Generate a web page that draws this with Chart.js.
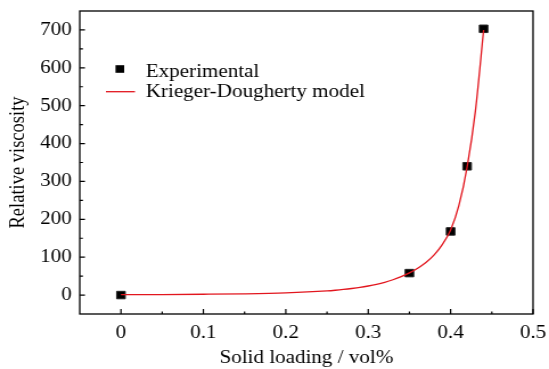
<!DOCTYPE html>
<html>
<head>
<meta charset="utf-8">
<script src="https://cdn.jsdelivr.net/npm/chart.js@4.4.1/dist/chart.umd.min.js"></script>
<style>
  html, body { margin: 0; padding: 0; background: #fff; }
  #wrap { width: 549px; height: 369px; overflow: hidden; }
  #c { width: 549px; height: 369px; display: block; }
</style>
</head>
<body>
<div id="wrap"><canvas id="c" width="482" height="369" style="width:549px;height:369px;"></canvas></div>
<script>
// ---- data ----
const expX = [0, 0.35, 0.40, 0.42, 0.44];
const expY = [0, 58, 168, 340, 703];

const modelX = [0, 0.05, 0.10, 0.15, 0.20, 0.25, 0.26, 0.27, 0.28, 0.29, 0.30, 0.31, 0.32, 0.33, 0.34, 0.35, 0.36, 0.37, 0.38, 0.39, 0.40, 0.41, 0.42, 0.43, 0.44];
const modelY = [1, 1.4, 2.1, 3.3, 5.8, 11, 12.7, 14.8, 17.3, 20.2, 23.9, 28.3, 33.7, 40.4, 48.6, 58.5, 71, 86, 106, 134, 172, 237, 338, 485, 700];

const xTickValues = [0, 0.1, 0.2, 0.3, 0.4, 0.5];
const xTickLabels = ['0', '0.1', '0.2', '0.3', '0.4', '0.5'];
const xMinorTicks = [0.05, 0.15, 0.25, 0.35, 0.45];
const yTickValues = [0, 100, 200, 300, 400, 500, 600, 700];
const yTickLabels = ['0', '100', '200', '300', '400', '500', '600', '700'];
const yMinorTicks = [50, 150, 250, 350, 450, 550, 650];

const seriesNames = ['Experimental', 'Krieger-Dougherty model'];
const xTitle = 'Solid loading / vol%';
const yTitle = 'Relative viscosity';

// ---- styling ----
const FONT = 'Liberation Serif';
const FS = 18.5;
const RED = 'rgb(226,22,30)';

const expData = expX.map((x, i) => ({ x: x, y: expY[i] }));
const modelData = modelX.map((x, i) => ({ x: x, y: modelY[i] }));

const framePlugin = {
  id: 'frameTicksLegend',
  afterDraw(chart) {
    const ctx = chart.ctx;
    const a = chart.chartArea;
    const xs = chart.scales.x, ys = chart.scales.y;
    ctx.save();
    ctx.strokeStyle = '#000';
    ctx.lineWidth = 1.2;
    // inward ticks
    ctx.beginPath();
    xTickValues.forEach(v => { const p = xs.getPixelForValue(v); ctx.moveTo(p, a.bottom); ctx.lineTo(p, a.bottom - 5); });
    xMinorTicks.forEach(v => { const p = xs.getPixelForValue(v); ctx.moveTo(p, a.bottom); ctx.lineTo(p, a.bottom - 2.6); });
    yTickValues.forEach(v => { const p = ys.getPixelForValue(v); ctx.moveTo(a.left, p); ctx.lineTo(a.left + 4.6, p); });
    yMinorTicks.forEach(v => { const p = ys.getPixelForValue(v); ctx.moveTo(a.left, p); ctx.lineTo(a.left + 2.8, p); });
    ctx.stroke();
    // frame
    ctx.lineWidth = 1.3;
    ctx.strokeRect(a.left, a.top, a.right - a.left, a.bottom - a.top);

    // legend
    ctx.fillStyle = '#000';
    ctx.font = FS + 'px "' + FONT + '"';
    ctx.textBaseline = 'alphabetic';
    ctx.textAlign = 'left';
    const mx = a.left + 35.2, my = 69;
    ctx.fillRect(mx - 3.8, my - 3.8, 7.6, 7.6);
    ctx.fillText(seriesNames[0], a.left + 58, 76.5);
    ctx.strokeStyle = RED;
    ctx.lineWidth = 1.3;
    ctx.beginPath();
    ctx.moveTo(a.left + 23, 91.7);
    ctx.lineTo(a.left + 48.5, 91.7);
    ctx.stroke();
    ctx.fillText(seriesNames[1], a.left + 58, 96.7);
    ctx.restore();
  }
};

new Chart(document.getElementById('c'), {
  type: 'scatter',
  data: {
    datasets: [
      {
        type: 'line',
        label: seriesNames[1],
        data: modelData,
        borderColor: RED,
        borderWidth: 1.3,
        pointRadius: 0,
        fill: false,
        cubicInterpolationMode: 'monotone',
        order: 0
      },
      {
        label: seriesNames[0],
        data: expData,
        pointStyle: 'rect',
        pointRadius: 5.3,
        pointBackgroundColor: '#000',
        pointBorderColor: '#222',
        pointBorderWidth: 1,
        order: 1
      }
    ]
  },
  options: {
    responsive: false,
    maintainAspectRatio: false,
    devicePixelRatio: 1,
    animation: false,
    layout: { padding: { left: 0, right: 14, top: 11, bottom: 0 } },
    plugins: { legend: { display: false }, tooltip: { enabled: false } },
    scales: {
      x: {
        type: 'linear',
        min: -0.05,
        max: 0.5,
        grid: { display: false, drawTicks: false },
        border: { display: false },
        afterBuildTicks: s => { s.ticks = xTickValues.map(v => ({ value: v })); },
        afterFit: s => { s.height = 55; s.paddingLeft = 0; s.paddingRight = 0; },
        ticks: {
          color: '#000',
          padding: 8,
          maxRotation: 0,
          font: { family: FONT, size: FS },
          callback: (v) => { const i = xTickValues.findIndex(t => Math.abs(t - v) < 1e-9); return i >= 0 ? xTickLabels[i] : ''; }
        },
        title: {
          display: true,
          text: xTitle,
          color: '#000',
          font: { family: FONT, size: FS },
          padding: { top: 0, bottom: 0 }
        }
      },
      y: {
        type: 'linear',
        min: -50,
        max: 750,
        grid: { display: false, drawTicks: false },
        border: { display: false },
        afterBuildTicks: s => { s.ticks = yTickValues.map(v => ({ value: v })); },
        afterFit: s => { s.width = 70; s.paddingTop = 0; s.paddingBottom = 0; },
        ticks: {
          color: '#000',
          padding: 7,
          font: { family: FONT, size: FS },
          callback: (v) => { const i = yTickValues.indexOf(v); return i >= 0 ? yTickLabels[i] : ''; }
        },
        title: {
          display: true,
          text: yTitle,
          color: '#000',
          font: { family: FONT, size: FS },
          padding: { top: 5.5, bottom: 0 }
        }
      }
    }
  },
  plugins: [framePlugin]
});
</script>
</body>
</html>
